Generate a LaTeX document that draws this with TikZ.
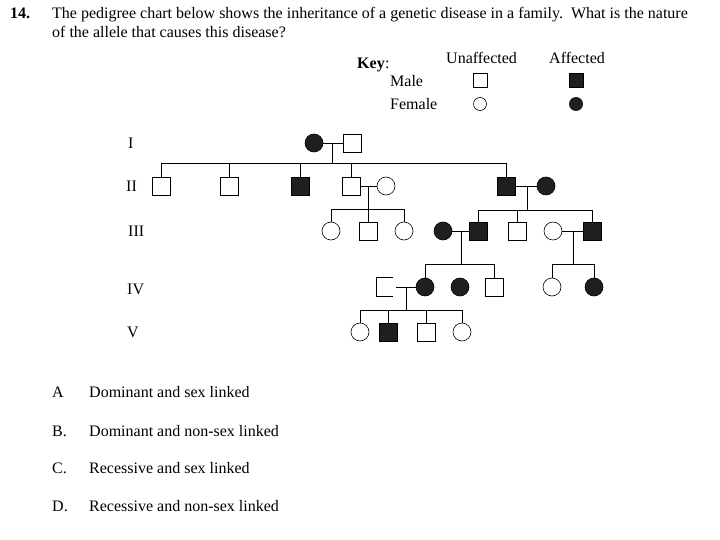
\documentclass[tikz,border=0pt]{standalone}
\usepackage{fontspec}
\setmainfont{Liberation Serif}
\begin{document}
\begin{tikzpicture}[x=1pt,y=-1pt,
  txt/.style={anchor=base west,inner sep=0pt,font=\fontsize{16}{19}\selectfont},
  gen/.style={anchor=west,inner sep=0pt,font=\fontsize{16}{19}\selectfont},
  mal/.style={draw,line width=0.8pt,rectangle,minimum size=18pt,inner sep=0pt},
  fem/.style={draw,line width=0.6pt,circle,minimum size=18pt,inner sep=0pt},
  aff/.style={fill=black!88},
  kmal/.style={draw,line width=0.7pt,rectangle,minimum size=14pt,inner sep=0pt},
  ln/.style={line width=0.9pt}]
\useasboundingbox (0,0) rectangle (720,540);

% question
\node[txt,font=\fontsize{16}{19}\selectfont\bfseries] (qn) at (10,19) {14.};
\node[txt] (q1) at (52,19) {The pedigree chart below shows the inheritance of a genetic disease in a family.\ \ What is the nature};
\node[txt] (q2) at (52,38) {of the allele that causes this disease?};

% key
\node[txt,font=\fontsize{16}{19}\selectfont\bfseries] (key) at (357,69) {Key};
\node[txt] (keyc) at (key.base east) {:};
\node[txt] (unaf) at (446,64) {Unaffected};
\node[txt] (afft) at (549,64) {Affected};
\node[txt] (malet) at (390,87) {Male};
\node[txt] (femt) at (390,110) {Female};
\node[kmal] (k1) at (480,80) {};
\node[kmal,aff] (k2) at (576,80) {};
\node[draw,line width=0.6pt,circle,minimum size=13pt,inner sep=0pt] (k3) at (480,104) {};
\node[circle,aff,minimum size=14pt,inner sep=0pt] (k4) at (576,104) {};

% generation labels
\node[gen] (gI) at (128,143) {I};
\node[gen] (gII) at (126,186) {II};
\node[gen] (gIII) at (128,231) {III};
\node[gen] (gIV) at (127,289) {IV};
\node[gen] (gV) at (127,332) {V};

% generation I
\node[fem,aff] (i1) at (314,143) {};
\node[mal] (i2) at (352,143) {};
\draw[ln] (i1) -- (i2);
\coordinate (m1) at (332,143);

% generation II
\node[mal] (ii1) at (161,186) {};
\node[mal] (ii2) at (229,186) {};
\node[mal,aff] (ii3) at (300,186) {};
\node[mal] (ii4) at (351,186) {};
\node[fem] (ii5) at (386,186) {};
\node[mal,aff] (ii6) at (506,186) {};
\node[fem,aff] (ii7) at (546,186) {};
\draw[ln] (m1) -- (m1 |- 0,163);
\draw[ln] (ii1.north) |- (0,163 -| ii6.north) -- (ii6.north);
\foreach \c in {ii2,ii3,ii4} \draw[ln] (\c.north) -- (\c.north |- 0,163);
\draw[ln] (ii4) -- (ii5);
\draw[ln] (ii6) -- (ii7);
\coordinate (m2) at (368,186);
\coordinate (m3) at (527,186);

% generation III
\node[fem] (iii1) at (331,231) {};
\node[mal] (iii2) at (368,231) {};
\node[fem] (iii3) at (404,231) {};
\node[fem,aff] (iii4) at (443,231) {};
\node[mal,aff] (iii5) at (478,231) {};
\node[mal] (iii6) at (517,231) {};
\node[fem] (iii7) at (553,231) {};
\node[mal,aff] (iii8) at (592,231) {};
\draw[ln] (m2) -- (m2 |- 0,209);
\draw[ln] (iii1.north) |- (0,209 -| iii3.north) -- (iii3.north);
\draw[ln] (iii2.north) -- (iii2.north |- 0,209);
\draw[ln] (m3) -- (m3 |- 0,210);
\draw[ln] (iii5.north) |- (0,210 -| iii8.north) -- (iii8.north);
\draw[ln] (iii6.north) -- (iii6.north |- 0,210);
\draw[ln] (iii4) -- (iii5);
\draw[ln] (iii7) -- (iii8);
\coordinate (m4) at (461,231);
\coordinate (m5) at (573,231);

% generation IV
\node[mal,draw=none] (iv0) at (386,287) {};
\draw[ln] (iv0.north east) ++(-2,0) -| (iv0.south west) -- ++(16,0);
\node[fem,aff] (iv1) at (425,287) {};
\node[fem,aff] (iv2) at (460,287) {};
\node[mal] (iv3) at (494,287) {};
\node[fem] (iv4) at (552,287) {};
\node[fem,aff] (iv5) at (594,287) {};
\draw[ln] (m4) -- (m4 |- 0,264);
\draw[ln] (iv1.north) |- (0,264 -| iv3.north) -- (iv3.north);
\draw[ln] (m5) -- (m5 |- 0,264);
\draw[ln] (iv4.north) |- (0,264 -| iv5.north) -- (iv5.north);
\draw[ln] (396,287) -- (iv1);
\coordinate (m6) at (406,287);

% generation V
\node[fem] (v1) at (360,332) {};
\node[mal,aff] (v2) at (388,332) {};
\node[mal] (v3) at (426,332) {};
\node[fem] (v4) at (462,332) {};
\draw[ln] (m6) -- (m6 |- 0,310);
\draw[ln] (v1.north) |- (0,310 -| v4.north) -- (v4.north);
\foreach \c in {v2,v3} \draw[ln] (\c.north) -- (\c.north |- 0,310);

% options
\node[txt] (oa) at (52,397) {A};
\node[txt] (ta) at (89,397) {Dominant and sex linked};
\node[txt] (ob) at (52,436) {B.};
\node[txt] (tb) at (89,436) {Dominant and non-sex linked};
\node[txt] (oc) at (52,473) {C.};
\node[txt] (tc) at (89,473) {Recessive and sex linked};
\node[txt] (od) at (52,511) {D.};
\node[txt] (td) at (89,511) {Recessive and non-sex linked};
\end{tikzpicture}
\end{document}
